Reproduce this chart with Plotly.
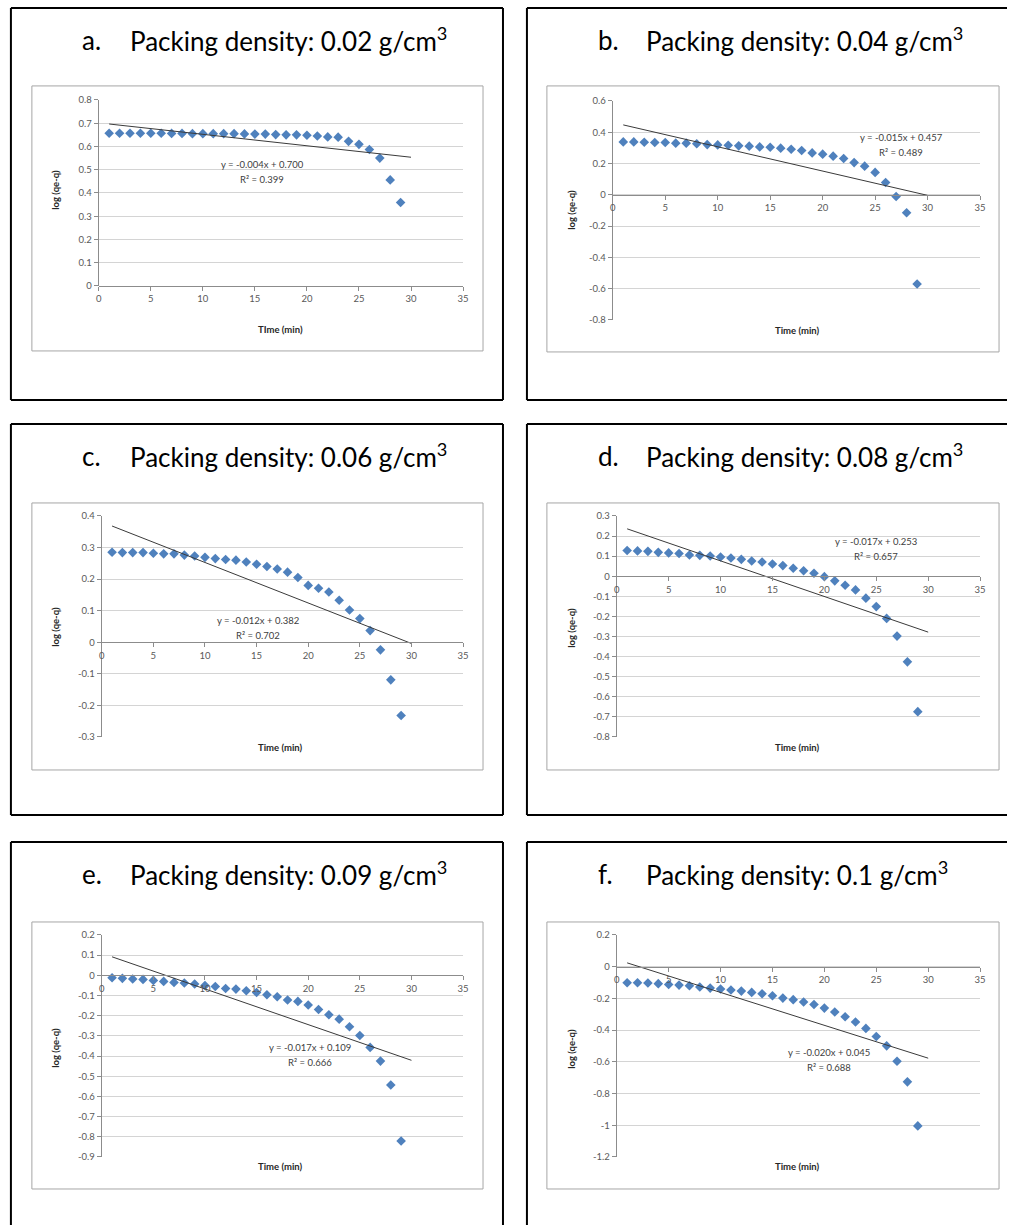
import numpy as np
import plotly.graph_objects as go

W, H = 1013, 1230

# ---------------- data ----------------
time_min = list(range(1, 30))

log_a = [0.657, 0.657, 0.657, 0.657, 0.657, 0.657, 0.656, 0.656, 0.655, 0.655,
         0.655, 0.655, 0.655, 0.654, 0.653, 0.653, 0.651, 0.650, 0.650, 0.648,
         0.645, 0.641, 0.640, 0.622, 0.609, 0.587, 0.550, 0.456, 0.359]
log_b = [0.338, 0.338, 0.336, 0.334, 0.334, 0.330, 0.330, 0.326, 0.321, 0.319,
         0.317, 0.313, 0.311, 0.306, 0.304, 0.298, 0.291, 0.283, 0.268, 0.260,
         0.247, 0.232, 0.206, 0.183, 0.143, 0.079, -0.011, -0.115, -0.570]
log_c = [0.285, 0.284, 0.284, 0.284, 0.282, 0.280, 0.280, 0.276, 0.273, 0.269,
         0.265, 0.262, 0.260, 0.254, 0.247, 0.240, 0.232, 0.222, 0.205, 0.180,
         0.171, 0.159, 0.133, 0.102, 0.075, 0.037, -0.024, -0.119, -0.232]
log_d = [0.128, 0.126, 0.124, 0.119, 0.116, 0.113, 0.106, 0.104, 0.101, 0.096,
         0.091, 0.084, 0.076, 0.071, 0.061, 0.053, 0.040, 0.027, 0.015, -0.002,
         -0.023, -0.045, -0.068, -0.109, -0.151, -0.210, -0.298, -0.426, -0.674]
log_e = [-0.012, -0.015, -0.018, -0.020, -0.025, -0.030, -0.035, -0.038, -0.043, -0.050,
         -0.055, -0.065, -0.068, -0.076, -0.085, -0.096, -0.106, -0.122, -0.129, -0.147,
         -0.169, -0.195, -0.217, -0.255, -0.298, -0.357, -0.425, -0.543, -0.821]
log_f = [-0.101, -0.101, -0.103, -0.107, -0.112, -0.116, -0.120, -0.128, -0.135, -0.141,
         -0.147, -0.154, -0.162, -0.171, -0.183, -0.198, -0.208, -0.223, -0.238, -0.261,
         -0.286, -0.316, -0.349, -0.389, -0.440, -0.499, -0.596, -0.726, -1.004]

panel_letters = ["a.", "b.", "c.", "d.", "e.", "f."]
densities = ["0.02", "0.04", "0.06", "0.08", "0.09", "0.1"]
series = [log_a, log_b, log_c, log_d, log_e, log_f]
equations = ["y = -0.004x + 0.700", "y = -0.015x + 0.457", "y = -0.012x + 0.382",
             "y = -0.017x + 0.253", "y = -0.017x + 0.109", "y = -0.020x + 0.045"]
r_squared = ["R² = 0.399", "R² = 0.489", "R² = 0.702",
             "R² = 0.657", "R² = 0.666", "R² = 0.688"]
x_titles = ["TIme (min)", "Time (min)", "Time (min)", "Time (min)", "Time (min)", "Time (min)"]
y_title = "log (qe-q)"

x_ticks = [0, 5, 10, 15, 20, 25, 30, 35]
y_ticks_a = [0, 0.1, 0.2, 0.3, 0.4, 0.5, 0.6, 0.7, 0.8]
y_ticks_b = [-0.8, -0.6, -0.4, -0.2, 0, 0.2, 0.4, 0.6]
y_ticks_c = [-0.3, -0.2, -0.1, 0, 0.1, 0.2, 0.3, 0.4]
y_ticks_d = [-0.8, -0.7, -0.6, -0.5, -0.4, -0.3, -0.2, -0.1, 0, 0.1, 0.2, 0.3]
y_ticks_e = [-0.9, -0.8, -0.7, -0.6, -0.5, -0.4, -0.3, -0.2, -0.1, 0, 0.1, 0.2]
y_ticks_f = [-1.2, -1.0, -0.8, -0.6, -0.4, -0.2, 0, 0.2]
y_ticks = [y_ticks_a, y_ticks_b, y_ticks_c, y_ticks_d, y_ticks_e, y_ticks_f]
trend_span = [1, 30]

# ---------------- layout geometry (target pixels in the photographed picture) ----------------
outer_boxes = [(10, 8, 503, 400), (527, 8, None, 400),
               (10, 424, 503, 815), (527, 424, None, 815),
               (10, 842, 503, None), (527, 842, None, None)]
inner_boxes = [(31, 86, 483, 351), (547, 86, 1000, 352),
               (31, 503, 483, 770), (547, 503, 1000, 770),
               (31, 922, 483, 1189), (547, 922, 1000, 1189)]
plot_areas = [(98, 100, 463, 286), (613, 101, 981, 320),
              (101, 516, 463, 737), (617, 516, 981, 737),
              (101, 935, 463, 1157), (617, 935, 981, 1157)]
title_y = [40, 40, 456, 456, 874, 874]
title_x = [(79, 127), (596, 644), (79, 127), (596, 644), (79, 127), (596, 644)]
eq_pos = [(262, 165), (902, 138), (258, 621), (877, 542), (310, 1048), (830, 1053)]
ytitle_pos = [(55, 190), (572, 210), (55, 627), (572, 628), (55, 1048), (572, 1049)]
xtitle_pos = [(280, 330), (798, 331), (280, 748), (798, 748), (280, 1167), (798, 1167)]

# the photographed page shows a slight offset/scale; pre-compensate
SX, OX = 0.993, 2.07
SY, OY = 0.991, 6.07


def fx(x):
    return min(max((x - OX) / SX, 0), W) / W


def fy(y):
    return 1 - min(max((y - OY) / SY, 0), H) / H


FONT = "Lato, 'Open Sans', sans-serif"
BLUE = "#4F81BD"
GRID = "#D4D4D4"
AXIS = "#8C8C8C"
TICK_FONT = dict(family=FONT, size=9.5, color="#595959")

fig = go.Figure()
shapes = []
annotations = []


def hline(xa_, xb_, y_, color, width):
    shapes.append(dict(type="line", xref="paper", yref="paper",
                       x0=fx(xa_), x1=xb_, y0=fy(y_), y1=fy(y_),
                       line=dict(color=color, width=width), layer="below"))


def vline(x_, ya_, yb_, color, width):
    shapes.append(dict(type="line", xref="paper", yref="paper",
                       x0=fx(x_), x1=fx(x_), y0=fy(ya_), y1=yb_,
                       line=dict(color=color, width=width), layer="below"))


for i in range(6):
    n = i + 1
    xa = "x" if n == 1 else f"x{n}"
    ya = "y" if n == 1 else f"y{n}"
    xkey = "xaxis" if n == 1 else f"xaxis{n}"
    ykey = "yaxis" if n == 1 else f"yaxis{n}"

    xs = np.array(time_min, dtype=float)
    ys = np.array(series[i], dtype=float)
    slope, intercept = np.polyfit(xs, ys, 1)
    tx = np.array(trend_span, dtype=float)
    ty = slope * tx + intercept

    fig.add_trace(go.Scatter(x=time_min, y=series[i], mode="markers", xaxis=xa, yaxis=ya,
                             marker=dict(symbol="diamond", size=7.4, color=BLUE, line=dict(width=0)),
                             showlegend=False, hoverinfo="x+y"))
    fig.add_trace(go.Scatter(x=tx, y=ty, mode="lines", xaxis=xa, yaxis=ya,
                             line=dict(color="#3A3A3A", width=1),
                             showlegend=False, hoverinfo="skip"))

    x0, y0, x1, y1 = plot_areas[i]
    yt = y_ticks[i]
    ymin, ymax = min(yt), max(yt)
    ydom = [fy(y1), fy(y0)]
    zero_pos = ydom[0] + (0 - ymin) / (ymax - ymin) * (ydom[1] - ydom[0])

    fig.update_layout({
        xkey: dict(domain=[fx(x0), fx(x1)], range=[0, 35], anchor="free", position=zero_pos,
                   tickvals=x_ticks, ticktext=[f"{v:g}" for v in x_ticks],
                   showgrid=False, zeroline=False, showline=True, linecolor=AXIS, linewidth=1,
                   ticks="outside", ticklen=4, tickcolor=AXIS, tickfont=TICK_FONT,
                   fixedrange=True),
        ykey: dict(domain=ydom, range=[ymin, ymax], anchor=xa,
                   tickvals=yt, ticktext=[f"{round(v, 2):g}" for v in yt],
                   showgrid=True, gridcolor=GRID, gridwidth=1, zeroline=False,
                   showline=True, linecolor=AXIS, linewidth=1,
                   ticks="outside", ticklen=4, tickcolor=AXIS, tickfont=TICK_FONT,
                   fixedrange=True),
    })

    # outer black frame (edges that lie outside the page are left open)
    ox0, oy0, ox1, oy1 = outer_boxes[i]
    right = fx(ox1) if ox1 is not None else 1.0
    bottom = fy(oy1) if oy1 is not None else 0.0
    hline(ox0, right, oy0, "black", 2)
    vline(ox0, oy0, bottom, "black", 2)
    if ox1 is not None:
        vline(ox1, oy0, bottom, "black", 2)
    if oy1 is not None:
        hline(ox0, right, oy1, "black", 2)

    ix0, iy0, ix1, iy1 = inner_boxes[i]
    shapes.append(dict(type="rect", xref="paper", yref="paper",
                       x0=fx(ix0), x1=fx(ix1), y0=fy(iy1), y1=fy(iy0),
                       line=dict(color="#A6A6A6", width=1), layer="below"))

    lx, tx_ = title_x[i]
    annotations.append(dict(xref="paper", yref="paper", x=fx(lx), y=fy(title_y[i]),
                            xanchor="left", yanchor="middle", showarrow=False,
                            text=panel_letters[i], font=dict(family=FONT, size=26, color="black")))
    annotations.append(dict(xref="paper", yref="paper", x=fx(tx_), y=fy(title_y[i]),
                            xanchor="left", yanchor="middle", showarrow=False,
                            text=f"Packing density: {densities[i]} g/cm<sup>3</sup>",
                            font=dict(family=FONT, size=26, color="black")))

    ex, ey = eq_pos[i]
    annotations.append(dict(xref="paper", yref="paper", x=fx(ex), y=fy(ey),
                            xanchor="center", yanchor="middle", showarrow=False,
                            text=equations[i], font=dict(family=FONT, size=9.5, color="#404040")))
    annotations.append(dict(xref="paper", yref="paper", x=fx(ex), y=fy(ey + 15),
                            xanchor="center", yanchor="middle", showarrow=False,
                            text=r_squared[i], font=dict(family=FONT, size=9.5, color="#404040")))

    yx, yy = ytitle_pos[i]
    annotations.append(dict(xref="paper", yref="paper", x=fx(yx), y=fy(yy),
                            xanchor="center", yanchor="middle", showarrow=False, textangle=-90,
                            text=f"<b>{y_title}</b>", font=dict(family=FONT, size=9.5, color="#262626")))
    xx, xy = xtitle_pos[i]
    annotations.append(dict(xref="paper", yref="paper", x=fx(xx), y=fy(xy),
                            xanchor="center", yanchor="middle", showarrow=False,
                            text=f"<b>{x_titles[i]}</b>", font=dict(family=FONT, size=9.5, color="#262626")))

fig.update_layout(width=W, height=H, margin=dict(l=0, r=0, t=0, b=0),
                  paper_bgcolor="white", plot_bgcolor="white",
                  shapes=shapes, annotations=annotations, showlegend=False)

page_css = (
    "var de=document.documentElement, b=document.body;"
    "de.style.margin='0';de.style.padding='0';de.style.overflow='hidden';"
    "b.style.margin='0';b.style.padding='0';b.style.overflow='hidden';"
)
fig.write_html("out.html", config={"displayModeBar": False}, post_script=page_css)
